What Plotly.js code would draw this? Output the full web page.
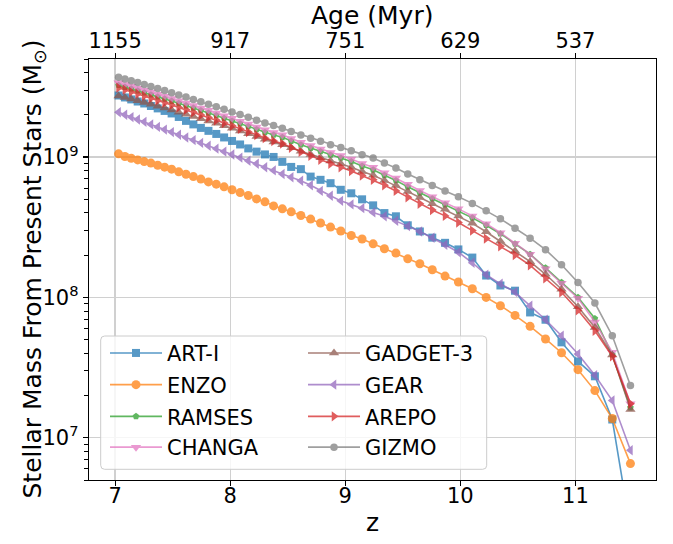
<!DOCTYPE html>
<html><head><meta charset="utf-8">
<script src="https://cdn.plot.ly/plotly-3.0.1.min.js"></script>
<style>html,body{margin:0;padding:0;background:#fff}</style>
</head><body><div id="chart" style="width:673px;height:544px"></div>
<script>
// snapshot redshifts
const redshift = [7.030,7.085,7.140,7.196,7.253,7.311,7.370,7.430,7.491,7.553,7.616,7.680,7.745,7.811,7.879,7.947,8.016,8.086,8.157,8.229,8.302,8.377,8.453,8.530,8.614,8.699,8.785,8.872,8.961,9.052,9.146,9.242,9.340,9.440,9.543,9.648,9.756,9.867,9.983,10.104,10.224,10.348,10.475,10.606,10.740,10.879,11.022,11.169,11.320,11.478];

// log10 of stellar mass from present stars (Msun)
const log10MassArtI = [9.439,9.425,9.411,9.396,9.382,9.364,9.347,9.329,9.311,9.286,9.258,9.233,9.208,9.187,9.165,9.140,9.115,9.090,9.062,9.039,9.019,9.001,8.966,8.930,8.914,8.861,8.838,8.814,8.767,8.742,8.699,8.656,8.601,8.578,8.514,8.470,8.426,8.389,8.342,8.284,8.156,8.085,8.048,7.893,7.841,7.680,7.544,7.438,7.130,6.350];
const log10MassEnzo = [9.023,9.004,8.992,8.980,8.968,8.957,8.942,8.928,8.914,8.895,8.878,8.861,8.843,8.823,8.807,8.788,8.767,8.747,8.726,8.702,8.681,8.652,8.631,8.610,8.584,8.558,8.530,8.501,8.473,8.441,8.416,8.382,8.347,8.316,8.275,8.240,8.197,8.152,8.110,8.062,8.000,7.941,7.872,7.794,7.704,7.606,7.485,7.336,7.137,6.816];
const log10MassRamses = [9.512,9.499,9.487,9.473,9.459,9.445,9.430,9.415,9.399,9.383,9.367,9.350,9.332,9.315,9.297,9.277,9.258,9.238,9.218,9.197,9.176,9.158,9.141,9.114,9.088,9.064,9.040,9.015,8.994,8.968,8.936,8.909,8.871,8.833,8.788,8.744,8.703,8.661,8.617,8.567,8.514,8.454,8.382,8.308,8.211,8.108,8.001,7.850,7.592,7.215];
const log10MassChanga = [9.530,9.517,9.505,9.491,9.477,9.463,9.448,9.433,9.417,9.401,9.385,9.368,9.350,9.333,9.315,9.295,9.276,9.256,9.236,9.215,9.194,9.176,9.159,9.132,9.106,9.082,9.058,9.033,9.012,8.986,8.954,8.927,8.889,8.851,8.806,8.762,8.717,8.675,8.631,8.581,8.525,8.461,8.386,8.308,8.204,8.101,7.994,7.825,7.609,7.243];
const log10MassGadget3 = [9.436,9.425,9.414,9.401,9.389,9.376,9.363,9.349,9.335,9.320,9.305,9.290,9.274,9.258,9.241,9.223,9.205,9.186,9.167,9.147,9.127,9.107,9.088,9.066,9.041,9.019,8.995,8.972,8.952,8.927,8.897,8.871,8.834,8.797,8.754,8.712,8.668,8.628,8.581,8.528,8.468,8.400,8.330,8.255,8.165,8.058,7.933,7.786,7.589,7.201];
const log10MassGear = [9.320,9.302,9.285,9.268,9.251,9.233,9.215,9.196,9.178,9.159,9.140,9.121,9.101,9.081,9.060,9.039,9.018,8.996,8.974,8.952,8.928,8.905,8.880,8.856,8.831,8.799,8.759,8.724,8.688,8.663,8.636,8.606,8.578,8.546,8.508,8.470,8.425,8.375,8.322,8.247,8.162,8.097,8.038,7.941,7.841,7.727,7.597,7.445,7.265,6.911];
const log10MassArepo = [9.494,9.480,9.465,9.451,9.436,9.419,9.404,9.387,9.371,9.354,9.337,9.319,9.300,9.282,9.263,9.243,9.223,9.201,9.179,9.157,9.135,9.115,9.096,9.067,9.037,9.009,8.981,8.952,8.928,8.901,8.868,8.839,8.799,8.759,8.714,8.668,8.623,8.581,8.534,8.476,8.419,8.364,8.302,8.229,8.137,8.037,7.909,7.763,7.580,7.243];
const log10MassGizmo = [9.569,9.557,9.544,9.531,9.517,9.503,9.489,9.474,9.459,9.443,9.428,9.411,9.394,9.377,9.359,9.341,9.322,9.303,9.283,9.263,9.243,9.225,9.205,9.183,9.158,9.135,9.112,9.088,9.069,9.046,9.017,8.993,8.957,8.922,8.880,8.839,8.797,8.758,8.717,8.670,8.617,8.560,8.493,8.422,8.340,8.233,8.107,7.960,7.727,7.372];

const codeNames = ['ART-I','ENZO','RAMSES','CHANGA','GADGET-3','GEAR','AREPO','GIZMO'];
const yTickVals = [1e7, 1e8, 1e9];
const yTickText = ['10<sup>7</sup>','10<sup>8</sup>','10<sup>9</sup>'];
const zTickVals = [7, 8, 9, 10, 11];
const ageTickText = ['1155','917','751','629','537'];

const seriesData = [log10MassArtI, log10MassEnzo, log10MassRamses, log10MassChanga, log10MassGadget3, log10MassGear, log10MassArepo, log10MassGizmo];
const styles = [
  {color:'#1f77b4', symbol:'square', size:8},
  {color:'#ff7f0e', symbol:'circle', size:9},
  {color:'#2ca02c', symbol:'pentagon', size:7},
  {color:'#e377c2', symbol:'triangle-down', size:9},
  {color:'#8c564b', symbol:'triangle-up', size:9},
  {color:'#9467bd', symbol:'triangle-left', size:9},
  {color:'#d62728', symbol:'triangle-right', size:9},
  {color:'#7f7f7f', symbol:'circle', size:7.5}
];
const FONT = 'DejaVu Sans';
const L = 89, R = 656, T = 59, B = 480, W = 673, H = 544;
const px2x = p => (p - L) / (R - L);
const px2y = p => (B - p) / (B - T);

const traces = seriesData.map((arr, i) => ({
  type: 'scatter', mode: 'lines+markers', name: codeNames[i],
  x: redshift, y: arr.map(v => Math.pow(10, v)),
  line: {color: styles[i].color, width: 1.6},
  marker: {color: styles[i].color, symbol: styles[i].symbol, size: styles[i].size, line: {width: 0}},
  opacity: 0.75,
  legend: i === 0 ? 'legend' : 'legend' + (i + 1),
  hoverinfo: 'skip'
}));
traces.push({type:'scatter', mode:'markers', x: zTickVals, y: zTickVals.map(() => null), xaxis:'x2', showlegend:false, hoverinfo:'skip'});

// legend placement: 2 columns x 4 rows
const rowY = [353.3, 385, 416.7, 447.5];
const colX = [105, 303];
const legends = {};
codeNames.forEach((n, i) => {
  const key = i === 0 ? 'legend' : 'legend' + (i + 1);
  const col = Math.floor(i / 4), row = i % 4;
  legends[key] = {
    x: px2x(colX[col]), y: px2y(rowY[row]), xanchor: 'left', yanchor: 'middle',
    bgcolor: 'rgba(0,0,0,0)', borderwidth: 0, itemwidth: 52,
    font: {family: FONT, size: 21, color: '#000'}
  };
});

const minorVals = [];
[1e6, 1e7, 1e8, 1e9].forEach(d => { for (let k = 2; k <= 9; k++) minorVals.push(k * d); });

const fx0 = px2x(100.7), fx1 = px2x(486.7), fy0 = px2y(469.3), fy1 = px2y(336);
const rx = 4 / (R - L), ry = 4 / (B - T);
const framePath = `M ${fx0+rx},${fy0} L ${fx1-rx},${fy0} Q ${fx1},${fy0} ${fx1},${fy0+ry} L ${fx1},${fy1-ry} Q ${fx1},${fy1} ${fx1-rx},${fy1} L ${fx0+rx},${fy1} Q ${fx0},${fy1} ${fx0},${fy1-ry} L ${fx0},${fy0+ry} Q ${fx0},${fy0} ${fx0+rx},${fy0} Z`;

const axisCommon = {
  showline: true, linecolor: '#000', linewidth: 1.2, ticks: 'outside', ticklen: 5, tickwidth: 1.2, tickcolor: '#000',
  tickfont: {family: FONT, size: 21, color: '#000'}, zeroline: false, automargin: false
};
const titleFont = {family: FONT, size: 25, color: '#000'};
const layout = Object.assign({
  width: W, height: H, paper_bgcolor: '#fff', plot_bgcolor: '#fff',
  margin: {l: L, r: W - R, t: T, b: H - B, pad: 0},
  font: {family: FONT, color: '#000'},
  xaxis: Object.assign({}, axisCommon, {
    range: [6.773, 11.70], tickvals: zTickVals, ticktext: zTickVals.map(String),
    showgrid: true, gridcolor: '#d0d0d0', gridwidth: 1.3, mirror: true, ticklabelstandoff: -8
  }),
  xaxis2: Object.assign({}, axisCommon, {
    overlaying: 'x', side: 'top', anchor: 'y', range: [6.773, 11.70],
    tickvals: zTickVals, ticktext: ageTickText, showgrid: false, ticklabelstandoff: -4
  }),
  yaxis: Object.assign({}, axisCommon, {
    type: 'log', range: [Math.log10(5e6), Math.log10(5e9)], tickvals: yTickVals, ticktext: yTickText,
    showgrid: true, gridcolor: '#d0d0d0', gridwidth: 1.3, mirror: true,
    minor: {tickvals: minorVals, ticks: 'outside', ticklen: 3.5, tickwidth: 1, tickcolor: '#000', showgrid: false}
  }),
  annotations: [
    {text: 'z', xref: 'paper', yref: 'paper', x: px2x(372), y: px2y(522), xanchor: 'center', yanchor: 'middle', showarrow: false, font: titleFont},
    {text: 'Age (Myr)', xref: 'paper', yref: 'paper', x: px2x(372), y: px2y(15), xanchor: 'center', yanchor: 'middle', showarrow: false, font: titleFont},
    {text: 'Stellar Mass From Present Stars (M<sub>⊙</sub>)', xref: 'paper', yref: 'paper', x: px2x(33), y: px2y(269.5), xanchor: 'center', yanchor: 'middle', textangle: -90, showarrow: false, font: titleFont}
  ],
  shapes: [{type: 'path', xref: 'paper', yref: 'paper', path: framePath, layer: 'above',
    fillcolor: 'rgba(255,255,255,0.8)', line: {color: '#cccccc', width: 1}}],
  showlegend: true
}, legends);

Plotly.newPlot('chart', traces, layout, {staticPlot: true, displayModeBar: false});
</script></body></html>
